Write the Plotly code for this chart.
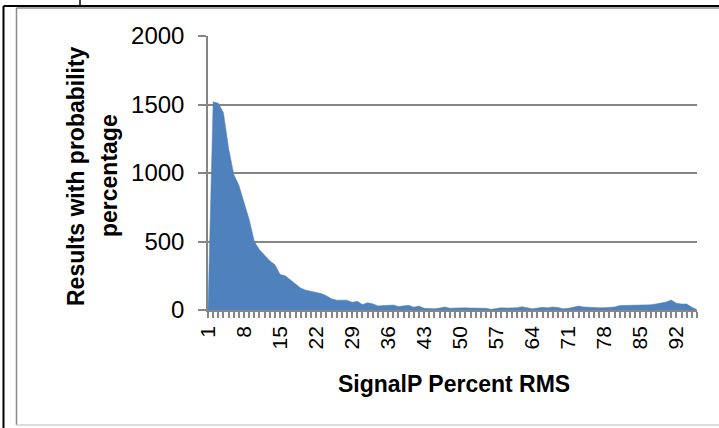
import plotly.graph_objects as go

# Data
categories = list(range(1, 97))
values = [
    0, 1520, 1510, 1440, 1180, 990, 910, 790, 660, 500,
    440, 400, 360, 330, 260, 250, 220, 190, 160, 145,
    137, 126, 120, 104, 82, 72, 72, 72, 56, 63,
    40, 53, 45, 30, 32, 34, 36, 26, 28, 34,
    20, 29, 12, 10, 10, 14, 22, 13, 15, 18,
    17, 14, 12, 15, 13, 5, 12, 17, 14, 13,
    17, 24, 15, 9, 14, 20, 17, 22, 18, 10,
    12, 20, 29, 22, 19, 18, 17, 17, 17, 22,
    32, 33, 34, 35, 36, 34, 38, 44, 50, 58,
    73, 49, 44, 44, 20, 2,
]
y_ticks = [0, 500, 1000, 1500, 2000]
x_title = "SignalP Percent RMS"
y_title_lines = ["Results with probability", "percentage"]

W, H = 719, 428
L, R, T, B = 208, 697, 36, 310
pw, ph = R - L, B - T


def px(x):
    return (x - L) / pw


def py(y):
    return (B - y) / ph


FONT = "Liberation Sans, Arial, sans-serif"
GRID = "#868686"

fig = go.Figure()
fig.add_trace(go.Scatter(
    x=categories, y=values, mode="lines", fill="tozeroy",
    fillcolor="#4F81BD", line=dict(color="#4F81BD", width=0.5),
    hoverinfo="skip", showlegend=False,
))

fig.update_layout(
    width=W, height=H,
    margin=dict(l=L, r=W - R, t=T, b=H - B),
    paper_bgcolor="white", plot_bgcolor="white",
    font=dict(family=FONT, color="black"),
    xaxis=dict(
        type="linear", range=[1, 96], tickmode="linear", tick0=1, dtick=7,
        showgrid=False, zeroline=False,
        showline=True, linecolor=GRID, linewidth=1.5,
        ticks="outside", ticklen=6, tickcolor=GRID, tickwidth=1.5,
        tickangle=-90, tickfont=dict(size=21, family=FONT, color="black"),
        ticklabelstandoff=0,
        minor=dict(ticks="outside", ticklen=6, tickcolor=GRID, tickwidth=1.5,
                   dtick=1, tick0=1, showgrid=False),
    ),
    yaxis=dict(
        range=[0, 2000], tickmode="array", tickvals=y_ticks,
        ticktext=[str(v) for v in y_ticks],
        showgrid=True, gridcolor=GRID, gridwidth=1.5, zeroline=False,
        showline=True, linecolor=GRID, linewidth=1.5,
        ticks="outside", ticklen=8, tickcolor=GRID, tickwidth=1.5,
        tickfont=dict(size=24, family=FONT, color="black"),
        ticklabelstandoff=9,
    ),
)

ann = [
    dict(text=f"<b>{y_title_lines[0]}</b>", x=px(76), y=py(176), textangle=-90),
    dict(text=f"<b>{y_title_lines[1]}</b>", x=px(109), y=py(176), textangle=-90),
    dict(text=f"<b>{x_title}</b>", x=px(454), y=py(384), textangle=0),
]
for a in ann:
    fig.add_annotation(xref="paper", yref="paper", xanchor="center", yanchor="middle",
                       showarrow=False, font=dict(size=23, family=FONT, color="black"), **a)

# frame lines (document border and chart area border)
shapes = [
    dict(x0=px(3.5), x1=px(3.5), y0=py(6), y1=py(430), line=dict(color="black", width=2)),
    dict(x0=px(3.5), x1=px(722), y0=py(6), y1=py(6), line=dict(color="black", width=2)),
    dict(x0=px(80), x1=px(80), y0=py(-2), y1=py(6), line=dict(color="black", width=1.5)),
    dict(x0=px(16.5), x1=px(16.5), y0=py(8), y1=py(425), line=dict(color="#8a8a8a", width=1.5)),
    dict(x0=px(16.5), x1=px(722), y0=py(8), y1=py(8), line=dict(color="#8a8a8a", width=1.5)),
    dict(x0=px(16.5), x1=px(722), y0=py(425), y1=py(425), line=dict(color="#d0d0d0", width=1.5)),
]
for s in shapes:
    fig.add_shape(type="line", xref="paper", yref="paper", **s)

fig.write_html("out.html")
